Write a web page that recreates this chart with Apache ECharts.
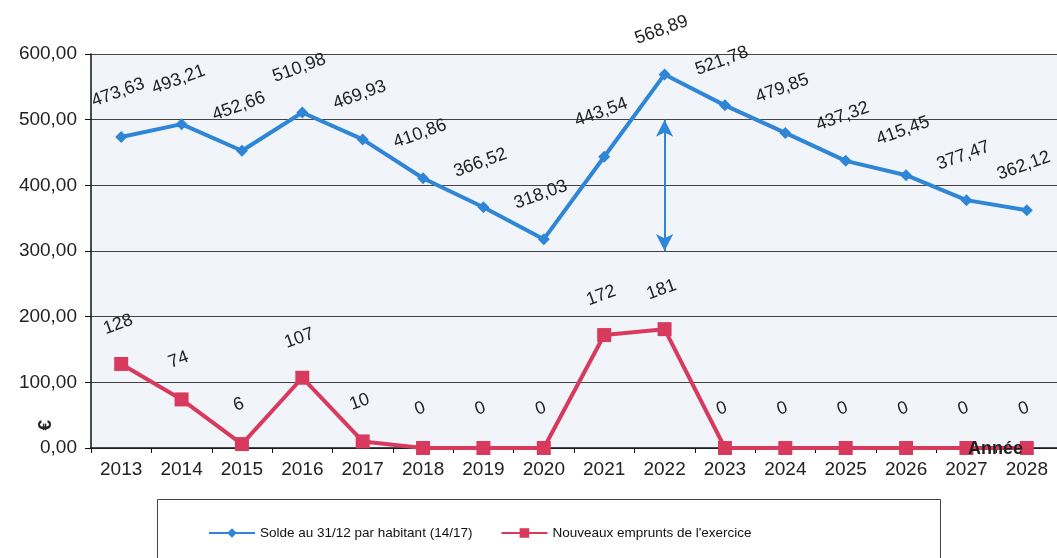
<!DOCTYPE html>
<html><head><meta charset="utf-8">
<script src="https://cdn.jsdelivr.net/npm/echarts@6/dist/echarts.min.js"></script>
<style>html,body{margin:0;padding:0;background:#fff}#c{width:1057px;height:558px}</style>
</head><body><div id="c"></div>
<script>
const years = ['2013','2014','2015','2016','2017','2018','2019','2020','2021','2022','2023','2024','2025','2026','2027','2028'];
const soldeParHabitant = [473.63,493.21,452.66,510.98,469.93,410.86,366.52,318.03,443.54,568.89,521.78,479.85,437.32,415.45,377.47,362.12];
const nouveauxEmprunts = [128,74,6,107,10,0,0,0,172,181,0,0,0,0,0,0];
const yTicks = {min:0, max:600, interval:100};
const seriesNames = ['Solde au 31/12 par habitant (14/17)', "Nouveaux emprunts de l'exercice"];

const fmt2 = v => v.toFixed(2).replace('.', ',');
const chart = echarts.init(document.getElementById('c'));
const font = 'Liberation Sans, Arial, sans-serif';
chart.setOption({
  animation:false,
  textStyle:{fontFamily:font},
  grid:{left:91, top:54, bottom:110, width:970, show:true, backgroundColor:'#f1f5f9', borderWidth:0},
  xAxis:{type:'category', data:years, boundaryGap:true,
    axisLine:{lineStyle:{color:'#111', width:1.5}},
    axisTick:{show:true, length:5, lineStyle:{color:'#111'}},
    axisLabel:{color:'#222', fontSize:19, margin:12, fontFamily:font}},
  yAxis:{type:'value', min:yTicks.min, max:yTicks.max, interval:yTicks.interval,
    axisLine:{show:true, lineStyle:{color:'#111', width:1.5}},
    axisTick:{show:true, length:6, lineStyle:{color:'#111'}},
    splitLine:{lineStyle:{color:'#444', width:1}},
    axisLabel:{color:'#222', fontSize:19, margin:14, formatter:v=>fmt2(v), fontFamily:font}},
  legend:{left:203, top:521, itemGap:28, itemWidth:46, itemHeight:12,
    textStyle:{fontSize:13.5, color:'#111', fontFamily:font},
    data:seriesNames},
  graphic:[
    {type:'rect', left:155, top:497, shape:{width:783, height:70}, style:{fill:'none', stroke:'#444', lineWidth:1}},
    {type:'text', left:36, top:420, rotation:Math.PI/2, style:{text:'€', fill:'#222', font:'bold 19px Liberation Sans'}},
    {type:'text', left:968, top:440, z:100, style:{text:'Année', fill:'#222', font:'bold 18px Liberation Sans'}}
  ],
  series:[
    {name:seriesNames[0], type:'line', data:soldeParHabitant, symbol:'diamond', symbolSize:12,
      lineStyle:{color:'#2f86d6', width:4}, itemStyle:{color:'#2f86d6'},
      label:{show:true, position:'top', distance:30, rotate:20, fontSize:18, color:'#222', formatter:p=>fmt2(p.value)},
      markLine:{silent:true, symbol:['arrow','arrow'], symbolSize:[13,17], label:{show:false},
        lineStyle:{color:'#2f86d6', width:2, type:'solid'},
        data:[[{coord:['2022',500]},{coord:['2022',300]}]]},
      z:3},
    {name:seriesNames[1], type:'line', data:nouveauxEmprunts, symbol:'rect', symbolSize:14,
      lineStyle:{color:'#d83a5e', width:4}, itemStyle:{color:'#d83a5e'},
      label:{show:true, position:'top', distance:24, rotate:20, fontSize:18, color:'#222', formatter:p=>String(p.value)},
      z:2}
  ]
});
</script></body></html>
